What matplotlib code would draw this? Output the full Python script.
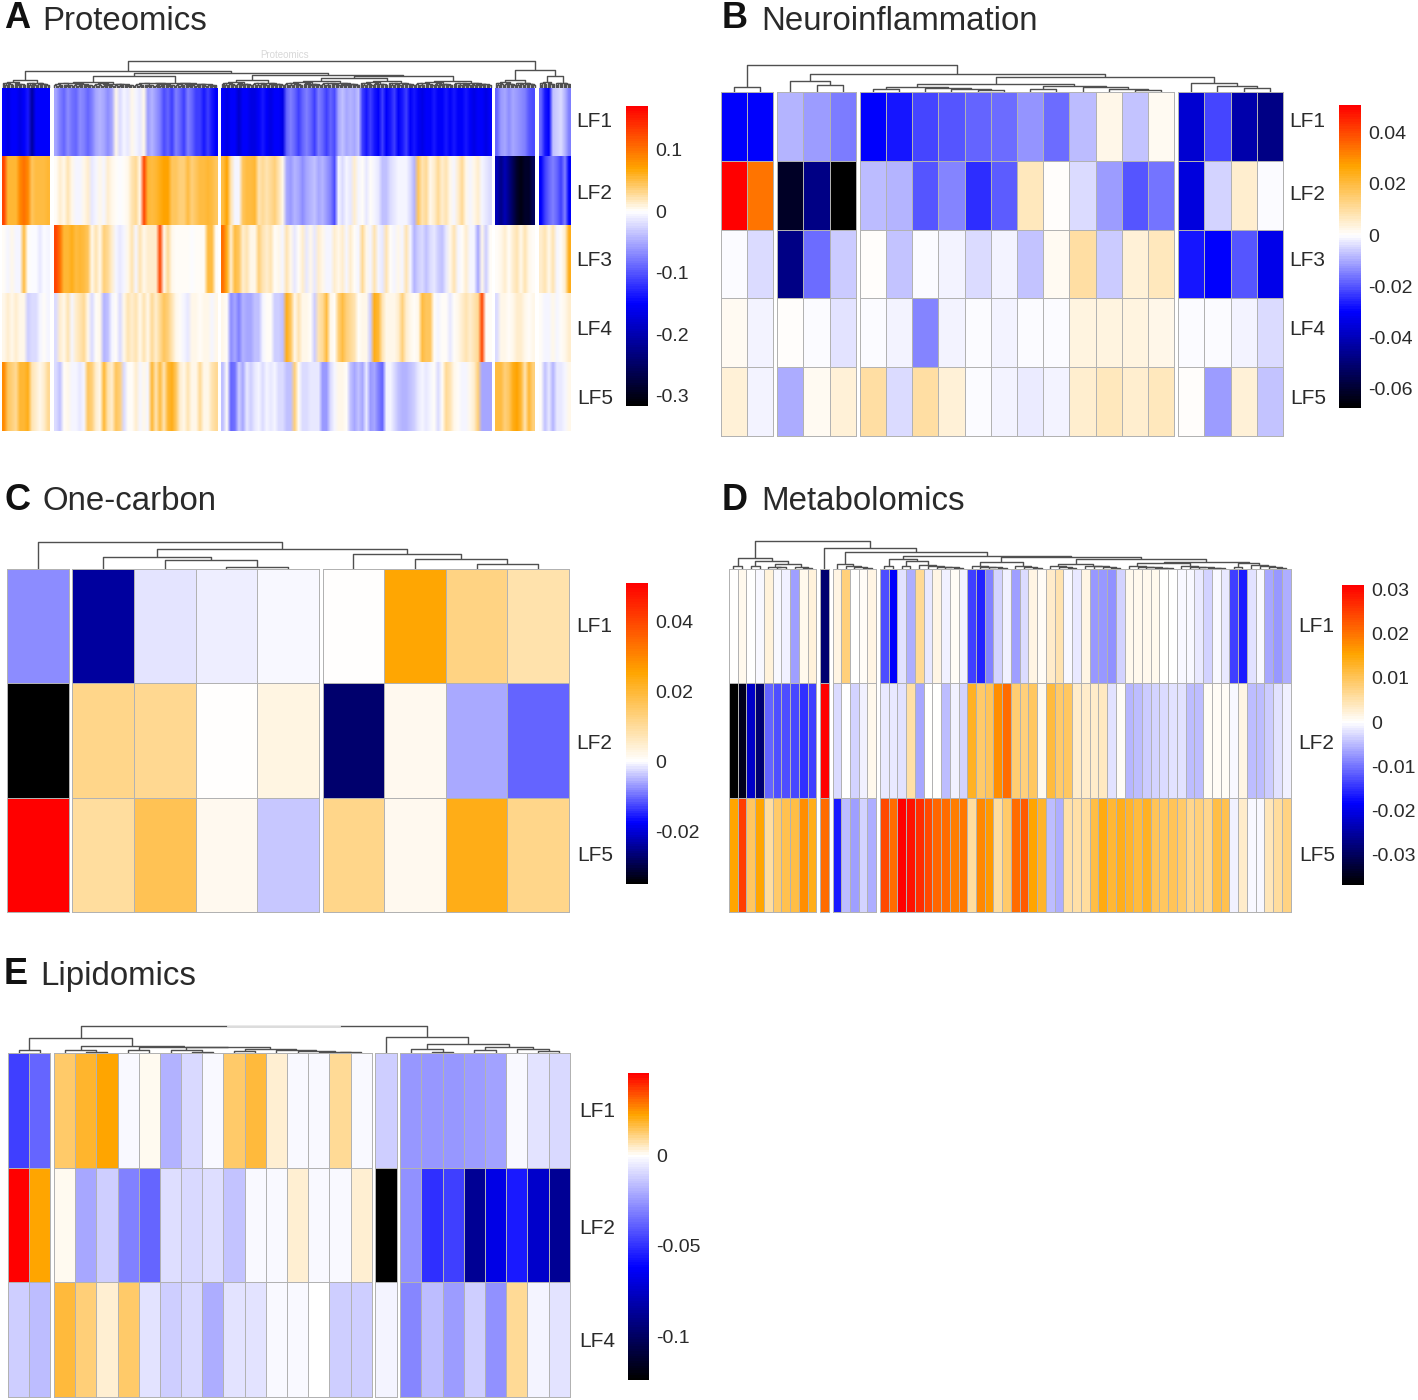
import numpy as np
import matplotlib
matplotlib.use("Agg")
import matplotlib.pyplot as plt
from matplotlib.colors import LinearSegmentedColormap, Normalize
from matplotlib.cm import ScalarMappable
from matplotlib.collections import LineCollection
from matplotlib.lines import Line2D

plt.rcParams['font.family'] = ['Liberation Sans', 'DejaVu Sans']
W, H = 1418, 1400
TXT = '#2a2a2a'

# ---------------- A: Proteomics, cells read as colour steps (hundredths) ----------------
A_GROUPS = [12, 41, 68, 10, 8]
A_LF1 = [-20,-21,-20,-20,-21,-20,-18,-24,-20,-20,-20,-20,
         -7,-10,-12,-9,-11,-12,-9,-10,-12,-10,-7,-6,-7,-9,-7,1,-3,-1,-2,1,-1,-2,1,
         -8,-6,-8,-10,-14,-12,-15,-10,-12,-15,-10,-12,-15,-15,-18,-15,-18,-20,
         -20,-21,-20,-20,-22,-20,-20,-21,-21,-20,-18,-20,-21,-20,-20,-21,
         -12,-10,-12,-15,-12,-10,-12,-15,-10,-12,-15,-12,-14,
         -7,-5,-7,-6,-7,-5,
         -15,-18,-15,-18,-20,-15,-20,-18,-15,-20,-18,-15,-20,-18,
         -20,-21,-20,-20,-18,-20,-20,-18,-20,-18,-20,-20,-18,-20,-21,-20,-20,-21,-20,
         -12,-8,-7,-9,-7,-8,-9,-10,-13,-14,
         -12,-18,-20,-5,-4,-3,-6,-10]
A_LF2 = [14,8,8,8,11,12,11,6,7,7,7,8,
         0,2,1,3,1,-1,-1,1,2,-2,-1,1,-1,2,1,0,-0.5,0,1,3,4,1,14,
         8,7,8,9,10,10,6,6,5,5,7,5,6,7,7,8,7,6,
         7,10,3,-1,-1,6,7,7,8,3,4,3,4,5,3,1,
         -7,-8,-6,-7,-9,-7,-6,-5,-7,-6,-8,-10,-14,
         -1,-3,-1,-2,2,-1,0,-2,0,-1,-2,-5,-5,-3,-2,-1,-1,-1,-3,-6,
         6,3,4,1,2,4,2,3,1,-1,2,4,1,-1,1,2,-1,-2,-3,
         -23,-25,-23,-25,-27,-29,-30,-29,-29,-27,
         -20,-15,-12,-10,-12,-15,-10,-20]
A_LF3 = [0,-1,1,-1,-1,7,0,-0.5,-0.5,-2,-0.5,-1,
         14,12,8,8,9,7,8,7,6,1,3,1,5,4,2,-1,-2,-1,1,3,-1,3,0.5,2,2,2,14,
         1,4,1,0,0,0,0,-0.5,0,0,0,7,7,0,
         12,9,2,7,6,2,3,1,1,5,3,2,3,0,1,-1,
         3,1,-2,0,2,-2,1,-2,2,1,-1,-1,2,
         1,2,-1,2,0,-1,4,1,-1,3,-1,-2,3,0,-1,1,-1,3,-1,-6,
         -4,-3,-5,-3,-2,-4,-5,-2,1,3,-1,0,2,-1,-1,-7,1,-4,0,
         0,1,2,0,2,3,1,3,1,0,
         2,3,1,3,-1,0,2,9]
A_LF4 = [1,2,1,2,1,1,-4,-3,-3,-1,0,-1,
         -3,2,1,3,-1,2,3,4,1,-3,0,1,-6,-5,-1,0,-3,1,3,2,3,1,3,1,4,2,4,6,5,3,
         1,0,-1,-2,1,1,0,1,1,-1,1,
         1,0,-9,-7,-10,-6,-7,-7,-5,-5,-1,0,0,-4,-4,-5,
         9,6,1,3,1,1,0,-4,3,4,7,1,0,5,7,5,4,3,0,1,1,-4,
         9,8,3,1,1,1,2,5,2,1,0,1,7,6,6,0,-1,0,0,-2,0,1,2,3,2,3,4,14,0,0,
         -3,1,1,0,1,2,2,1,0,1,
         0,-1,-1,1,-1,0,1,2]
A_LF5 = [11,6,5,4,8,8,9,3,2,1,2,4,
         -3,-5,0,1,-1,-1,-2,-1,6,5,2,1,8,3,2,6,5,-3,0,0,2,-1,1,-1,8,3,7,3,8,9,
         6,2,1,3,1,1,4,1,1,3,4,
         -5,0,-12,-11,-4,-7,-2,-4,-2,-1,-3,-1,-2,-1,-3,-3,
         -5,-5,5,0,-3,-3,-2,-2,-2,-8,-8,-3,-1,1,1,0,-5,-7,-5,-7,-2,-8,-7,-10,-12,
         -1,-1,-3,-5,-6,-6,-5,-4,-2,-1,-2,-1,0,-3,0,4,3,1,0,-1,-1,1,2,5,-7,-7,-7,
         7,7,5,6,9,10,8,3,8,5,
         0,-5,-2,-6,-2,-2,-1,1]
A_STEPS = [-31, -20, 0, 10, 17]
A_NODES = [-0.317, -0.15, 0, 0.07, 0.171]

# ---------------- B: Neuroinflammation (thousandths) ----------------
B_GROUPS = [2, 3, 12, 4]
B_LF1 = [-34,-34, -10,-13,-17, -34,-31,-25,-23,-21,-20,-14,-19,-9,2,-8,1, -40,-25,-45,-50]
B_LF2 = [50,32, -62,-50,-67, -9,-10,-23,-16,-28,-22,6,0.5,-5,-13,-23,-18, -38,-6,5,-1]
B_LF3 = [-1,-5, -50,-20,-7, 0.5,-8,-1,-2,-5,-2,-8,1.5,9,-7,4,6, -31,-34,-23,-37]
B_LF4 = [1.5,-2, 0.5,-1,-3.5, -1,-2,-16,-2,-1,-2,-1,-1,3,3,3,2, -1,-1,-2,-5]
B_LF5 = [4,-2, -11,1.5,4, 9,-5,9,4,-1,-2,-3,-2,5,6,5,6, 0.5,-13,4,-8]
B_STEPS = [-67.6, -34, 0, 25, 50.8]
B_NODES = [-0.0676, -0.030, 0, 0.027, 0.0508]

# ---------------- C: One-carbon (thousandths) ----------------
C_GROUPS = [1, 4, 4]
C_LF1 = [-7.7, -24,-1.8,-1,-0.5, 0.3,25,12.5,8]
C_LF2 = [-35, 12,11,0.3,3, -27,1.5,-6,-10.4]
C_LF5 = [51, 9.5,17,1.5,-4, 12,1.5,23,12]
C_NODES = [-0.035, -0.0175, 0, 0.0255, 0.051]

# ---------------- D: Metabolomics (1e-4) ----------------
D_GROUPS = [10, 1, 5, 47]
D_LF1 = [0,9,0,-5,20,-5,-8,-68,12,20, -285, 15,80,2,8,15,
         -125,-184,-22,-57,62,-15,15,-11,5,-8,-135,-160,-92,-33,-11,-68,-25,15,5,30,50,-5,-18,15,
         -72,-75,-80,-33,12,12,10,10,2,2,-5,-5,-18,-30,-3,-15,-138,-165,-22,-5,-65,-75,-57]
D_LF2 = [-368,-345,-220,-285,-110,-125,-125,-130,-150,-135, 310, -25,0,-33,-11,10,
         -18,-15,-22,55,-65,0,0,-50,-8,-30,130,90,100,175,205,85,80,95,12,115,90,95,30,30,
         30,35,-20,3,-55,-45,-35,-30,-25,-22,-20,-45,-45,5,3,5,-3,15,-50,-45,-35,-20,-10]
D_LF5 = [155,250,95,155,60,90,108,110,175,140, 205, -165,-46,-68,-33,-57,
         240,205,310,290,265,240,210,205,190,195,60,180,165,60,90,205,220,155,125,-45,-60,55,55,60,
         110,145,120,140,125,115,130,100,95,100,90,70,80,70,110,105,-8,30,-3,-3,40,60,75]
D_NODES = [-0.0368, -0.0184, 0, 0.0155, 0.031]

# ---------------- E: Lipidomics (thousandths) ----------------
E_GROUPS = [2, 15, 1, 8]
E_LF1 = [-46.5,-37, 13.5,18,22.6,-2,1.4,-19.5,-9.5,-2,13.5,17,3.6,-2,-2,9,-2, -12.4, -25,-25,-25,-24,-23,-2,-7,-9.5]
E_LF2 = [45,22.6, 1.4,-21,-12.4,-31,-37,-8,-9,-8,-14.5,-1.5,-1.5,3.6,-2,-1,3.6, -124, -27,-50,-46.5,-87,-68,-56,-75,-87]
E_LF4 = [-12.4,-16.5, 17,12,4,13,-6.6,-12.4,-9,-20,-6.6,-6.6,-1.5,-1.5,-0.5,-12.4,-12.4, -3.6, -29,-16.5,-24,-12.4,-27,9,-3.6,-6.6]
E_NODES = [-0.124, -0.062, 0, 0.0226, 0.0453]

# ---------------- Dendrograms: (height, left, right), 0 = leaf, list = ladder of heights ----------------
def bush(n, h, depth=0):
    table = [6, 5, 4.6, 4, 3.2, 2.4, 1.6, 1, 0.6]
    if n <= 1:
        return 0
    k = n // 2
    nxt = table[min(depth, len(table) - 1)]
    return (h, bush(k, nxt, depth + 1), bush(n - k, nxt * 0.85, depth + 1))

TREE_A = (26.7,
          (16.7, bush(36, 8.3),
           (15, bush(123, 11.7),
            (13.3, bush(48, 8.5),
             (11.7, (10.3, bush(57, 7.5), bush(42, 7)), bush(57, 7.5))))),
          (17.7, bush(30, 8.3), bush(24, 11.7)))
TREE_B = (27, (5, 0, 0),
          (18.5, (10.6, 0, (7, 0, 0)),
           (15.5,
            (8, (5.5, (3, 0, 0), (4, 0, [3, 2])),
             (6.5, (3, 0, 0), (5, 0, [3.3, 2.5]))),
            (9, 0, [6.5, 4.5]))))
TREE_C = (27.3, 0, (20, (11.6, 0, (9, 0, (2.3, 0, 0))),
                    (15, 0, (10, 0, (5, 0, 0)))))
D_G1 = (10.7, (2.7, 0, 0), (8.3, (3, 0, 0), (5, [2, 1.5], [2, 1])))
D_C1 = (9.5, (2.5, 0, 0), (8, (2.5, 0, 0), [4, 3, 2, 1.5, 1]))
D_C2 = (6.5, [3, 2, 1.5, 1], [3, 2, 1])
D_C3 = (5, [3, 2, 1], [3, 2.5, 1.5, 1])
D_C4 = (5.5, [3, 2, 1.5, 1, 0.7], [3, 2, 1.5, 1, 0.7])
D_C5 = (6, (2, 0, 0), [4, 2.5, 1.5, 1])
D_G4 = (13.3, D_C1, (12, D_C2, (9.5, D_C3, (7.3, D_C4, D_C5))))
TREE_D = (27.7, D_G1, (20.7, 0, (16.7, [5, 3, 2, 1], D_G4)))
E_G2 = (6.7, (3.3, 0, (1.5, 0, 0)),
        (6.5, (3.3, 0, 0), (5.7, (3, 0, (1.5, 0, 0)), (4, (2, 0, 0), [3, 2, 1.5, 1]))))
E_G4 = (9, (4, 0, (1, 0, 0)), (6.3, (3.3, 0, 0), (4.3, 0, (2, 0, 0))))
TREE_E = (27, (15, (3.3, 0, 0), E_G2), (15.7, 0, E_G4))


def make_axes(x0, y0, x1, y1):
    return plt.figure(1).add_axes([x0 / W, 1 - y1 / H, (x1 - x0) / W, (y1 - y0) / H])


def to_cmap(nodes):
    lo, hi = nodes[0], nodes[-1]
    pos = [(v - lo) / (hi - lo) for v in nodes]
    return LinearSegmentedColormap.from_list(
        'rmp', list(zip(pos, ['black', 'blue', 'white', 'orange', 'red'])), N=128)


def tree_segments(node, leaves, segs):
    if isinstance(node, list):
        lad = 0
        for h in reversed(node):
            lad = (h, 0, lad)
        node = lad
    if node == 0:
        return next(leaves), 0.0
    h, a, b = node
    xa, ha = tree_segments(a, leaves, segs)
    xb, hb = tree_segments(b, leaves, segs)
    segs.append([(xa, ha), (xa, h), (xb, h), (xb, hb)])
    return (xa + xb) / 2, h


def panel(box, groups, rows, nodes, tree, bar, ticks, ticklabels, rowlabels, labelx, labely,
          gap=3.7, edge='#b2b2b2', per_col=1):
    x0, y0, x1, y1 = box
    data = np.array(rows, dtype=float)
    assert data.shape == (len(rows), sum(groups)), data.shape
    colw = (x1 - x0 - gap * (len(groups) - 1)) / sum(groups)
    g = gap / colw
    cmap, norm = to_cmap(nodes), Normalize(nodes[0], nodes[-1])
    ax = make_axes(x0, y0, x1, y1)
    total = sum(groups) + g * (len(groups) - 1)
    start, col, leaf_x = 0.0, 0, []
    for n in groups:
        sub = data[:, col:col + n]
        if edge:
            m = ax.pcolormesh(start + np.arange(n + 1), np.arange(len(rows) + 1), sub,
                              cmap=cmap, norm=norm, edgecolors=edge, linewidth=0.45)
            m.set_clip_on(False)
        else:
            # dense panel: soft-edged columns, rows stay sharp
            for r in range(len(rows)):
                ax.imshow(sub[r:r + 1], cmap=cmap, norm=norm, aspect='auto',
                          extent=(start, start + n, r + 1, r),
                          interpolation='bilinear', interpolation_stage='rgba')
        leaf_x.extend(start + (np.arange(n * per_col) + 0.5) / per_col)
        start += n + g
        col += n
    ax.set_xlim(0, total)
    ax.set_ylim(len(rows), 0)
    ax.axis('off')
    dax = make_axes(x0, y0 - 30, x1, y0)
    dax.set_xlim(0, total)
    dax.set_ylim(0, 30)
    dax.axis('off')
    segs = []
    tree_segments(tree, iter(leaf_x), segs)
    dax.add_collection(LineCollection(segs, colors='#505050', linewidths=1.0))
    cax = make_axes(*bar)
    cb = plt.figure(1).colorbar(ScalarMappable(norm=norm, cmap=cmap), cax=cax, ticks=ticks)
    cb.ax.set_yticklabels(ticklabels, fontsize=14, color=TXT)
    cb.ax.tick_params(length=0, pad=5)
    cb.outline.set_visible(False)
    for lab, y in zip(rowlabels, labely):
        dx = 1 if lab == 'LF5' else 0
        plt.figure(1).text((labelx + dx) / W, 1 - (y + 1.5) / H, lab, fontsize=15, color=TXT, va='center')


def title(letter, lx, name, nx, y, ly=None):
    fig = plt.figure(1)
    fig.text(lx / W, 1 - ((y if ly is None else ly) + 3) / H, letter, fontsize=26, fontweight='bold', color='#111', va='center')
    fig.text(nx / W, 1 - (y + 3) / H, name, fontsize=23.8, color=TXT, va='center')


fig = plt.figure(1, figsize=(W / 100, H / 100), dpi=100, facecolor='white')

a_rows = [np.interp(r, A_STEPS, A_NODES) for r in (A_LF1, A_LF2, A_LF3, A_LF4, A_LF5)]
panel((2, 88, 571, 431), A_GROUPS, a_rows, A_NODES, TREE_A, (626, 106, 648, 406),
      [0.1, 0, -0.1, -0.2, -0.3], ['0.1', '0', '-0.1', '-0.2', '-0.3'],
      ['LF1', 'LF2', 'LF3', 'LF4', 'LF5'], 576, [120, 192, 259, 328, 397],
      gap=4, edge=None, per_col=3)

b_rows = [np.interp(r, B_STEPS, B_NODES) for r in (B_LF1, B_LF2, B_LF3, B_LF4, B_LF5)]
panel((721, 92, 1283, 436), B_GROUPS, b_rows, B_NODES, TREE_B, (1339, 105, 1361, 408),
      [0.04, 0.02, 0, -0.02, -0.04, -0.06], ['0.04', '0.02', '0', '-0.02', '-0.04', '-0.06'],
      ['LF1', 'LF2', 'LF3', 'LF4', 'LF5'], 1289, [120, 193, 259, 328, 397])

c_rows = [np.array(r) * 1e-3 for r in (C_LF1, C_LF2, C_LF5)]
panel((7, 569, 569, 912), C_GROUPS, c_rows, C_NODES, TREE_C, (626, 583, 648, 884),
      [0.04, 0.02, 0, -0.02], ['0.04', '0.02', '0', '-0.02'],
      ['LF1', 'LF2', 'LF5'], 576, [625, 742, 854])

d_rows = [np.array(r) * 1e-4 for r in (D_LF1, D_LF2, D_LF5)]
panel((729, 569, 1290.5, 912), D_GROUPS, d_rows, D_NODES, TREE_D, (1342, 585, 1364, 885),
      [0.03, 0.02, 0.01, 0, -0.01, -0.02, -0.03], ['0.03', '0.02', '0.01', '0', '-0.01', '-0.02', '-0.03'],
      ['LF1', 'LF2', 'LF5'], 1298, [625, 742, 854])

e_rows = [np.array(r) * 1e-3 for r in (E_LF1, E_LF2, E_LF4)]
panel((8, 1053, 569.7, 1397), E_GROUPS, e_rows, E_NODES, TREE_E, (628, 1073, 649, 1380),
      [0, -0.05, -0.1], ['0', '-0.05', '-0.1'],
      ['LF1', 'LF2', 'LF4'], 579, [1110, 1227, 1340])

title('A', 4, 'Proteomics', 42, 19, 16)
title('B', 722, 'Neuroinflammation', 761, 18, 16)
title('C', 4, 'One-carbon', 42, 499, 497)
title('D', 722, 'Metabolomics', 761, 499, 497)
title('E', 4, 'Lipidomics', 40, 973, 971)

# Faint remnants in the source: a hidden heading above panel A and a paled stretch of panel E's root
fig.text(285 / W, 1 - 55 / H, 'Proteomics', fontsize=7, color='#d8d8d8', ha='center', va='center')
fig.add_artist(Line2D([228 / W, 340 / W], [1 - 1026 / H] * 2, color='#ececec', lw=1.3))

fig.savefig('out.png', dpi=100, facecolor='white')
